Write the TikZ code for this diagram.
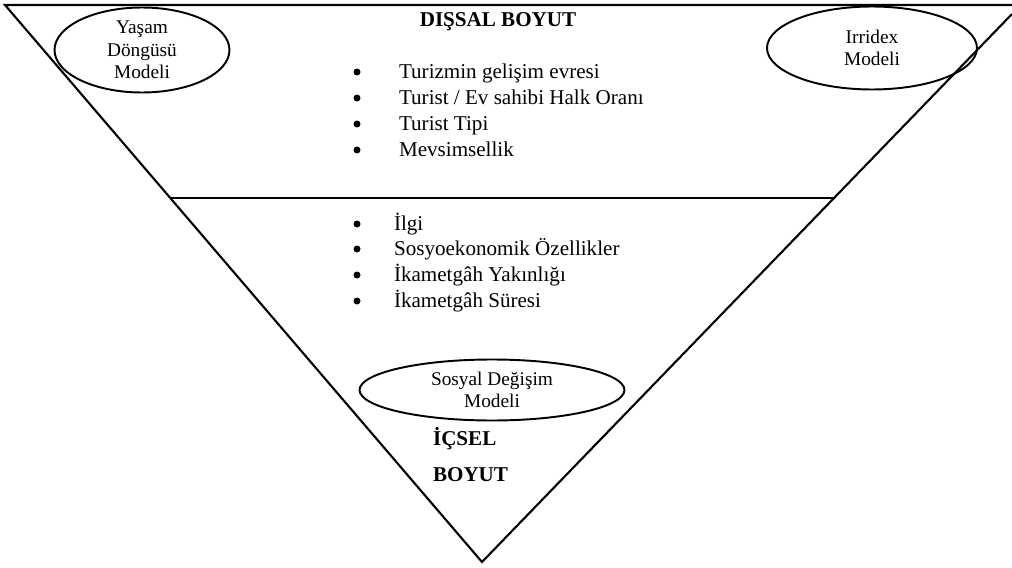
\documentclass[tikz,border=0pt]{standalone}
\usepackage{fontspec}
\setmainfont{Liberation Serif}
\usetikzlibrary{shapes.geometric}
\tikzset{
	model/.style={draw, ellipse, line width=1.1pt, inner sep=0pt, align=center, font=\fontsize{11}{12.8}\selectfont},
	madde/.style={anchor=base west, inner sep=0pt, font=\fontsize{12}{14}\selectfont},
	nokta/.style={circle, fill, inner sep=0pt, minimum size=0.14cm},
	baslik/.style={anchor=base, inner sep=0pt, font=\fontsize{12}{14}\selectfont\bfseries}
}

\begin{document}
\begin{tikzpicture}[x=0.02cm, y=-0.02cm, line width=1.2pt]
		\useasboundingbox (0,0) rectangle (1012,568);

		% ters ucgen
		\coordinate (sag) at (1012,5);
		\coordinate (sol) at (5,5);
		\coordinate (tepe) at (482,562);
		\coordinate (sagkenar) at (1012,14);
		\coordinate (orta1) at (170,198);
		\coordinate (orta2) at (834,198);
		\draw (sag) -- (sol) -- (tepe) -- (sagkenar);
		\draw (orta1) -- (orta2);

		% modeller
		\node[model, minimum width=3.5cm, minimum height=1.7cm] (yasam) at (142,50) {Yaşam\\Döngüsü\\Modeli};
		\node[model, minimum width=4.2cm, minimum height=1.66cm] (irridex) at (872,48) {Irridex\\Modeli};
		\node[model, minimum width=5.3cm, minimum height=1.22cm] (sosyal) at (492,390) {Sosyal Değişim\\Modeli};

		% dissal boyut
		\node[baslik] (dissal) at (498,27) {DIŞSAL BOYUT};
		\node[nokta] (n1) at (357,72) {};
		\node[nokta] (n2) at (357,98) {};
		\node[nokta] (n3) at (357,124) {};
		\node[nokta] (n4) at (357,150) {};
		\node[madde] (d1) at (398,78) {Turizmin gelişim evresi};
		\node[madde] (d2) at (398,104) {Turist / Ev sahibi Halk Oranı};
		\node[madde] (d3) at (398,130) {Turist Tipi};
		\node[madde] (d4) at (398,156) {Mevsimsellik};

		% icsel boyut
		\node[nokta] (n5) at (357,224) {};
		\node[nokta] (n6) at (357,249) {};
		\node[nokta] (n7) at (357,275) {};
		\node[nokta] (n8) at (357,301) {};
		\node[madde] (i1) at (393,230) {İlgi};
		\node[madde] (i2) at (393,255) {Sosyoekonomik Özellikler};
		\node[madde] (i3) at (393,281) {İkametgâh Yakınlığı};
		\node[madde] (i4) at (393,307) {İkametgâh Süresi};
		\node[baslik, anchor=base west] (icsel) at (432,445) {İÇSEL};
		\node[baslik, anchor=base west] (boyut) at (432,481) {BOYUT};
	\end{tikzpicture}
\end{document}
